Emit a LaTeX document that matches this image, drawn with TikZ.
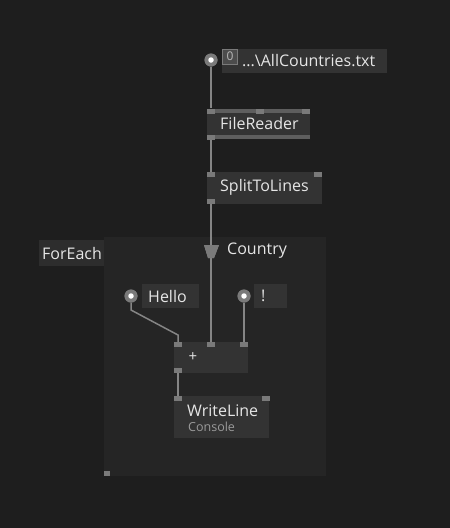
\documentclass[tikz,border=0pt]{standalone}
\usepackage{fontspec}
\setmainfont{Open Sans}
\definecolor{bg}{HTML}{1E1E1E}
\definecolor{region}{HTML}{252525}
\definecolor{nodefill}{HTML}{333333}
\definecolor{labelfill}{HTML}{2D2D2D}
\definecolor{pin}{HTML}{7A7A7A}
\definecolor{wire}{HTML}{858585}
\definecolor{txt}{HTML}{E6E6E6}
\definecolor{subtxt}{HTML}{9A9A9A}
\tikzset{
  pinbox/.style={fill=pin,draw=none,minimum width=8pt,minimum height=5pt,inner sep=0pt},
  wireline/.style={draw=wire,line width=1.5pt},
  lbl/.style={text=txt,font=\fontsize{16}{18}\selectfont,inner sep=0pt,anchor=west},
  iopin/.style={circle,fill=pin,minimum size=13pt,inner sep=0pt},
  iodot/.style={circle,fill=white,minimum size=5.5pt,inner sep=0pt}
}
\begin{document}
\begin{tikzpicture}[x=1pt,y=-1pt]
\path[fill=bg,use as bounding box] (0,0) rectangle (450,528);
% ForEach region
\path[fill=region] (104,237) rectangle (326,476);
\node[fill=labelfill,minimum width=65pt,minimum height=26pt,inner sep=0pt] (forlbl) at (71.5,253) {};
\node[lbl] (fortxt) at (42,253) {ForEach};
\node[pinbox,minimum width=6pt,minimum height=5pt] (regpin) at (107,473.5) {};
% Top IOBox
\node[fill=nodefill,minimum width=165pt,minimum height=24pt,inner sep=0pt] (iobox) at (304.5,61) {};
\node[fill=labelfill!60!pin,draw=pin,line width=1pt,minimum width=15pt,minimum height=15pt,inner sep=0pt] (zero) at (230,57) {};
\node[text=txt!80!black,font=\fontsize{12}{12}\selectfont,inner sep=0pt] (zerotxt) at (230,56.5) {0};
\node[lbl] (iotxt) at (242,61) {...\textbackslash AllCountries.txt};
\node[iopin] (iop) at (211,60) {};
\node[iodot] at (211,60) {};
% FileReader
\node[fill=nodefill,minimum width=103pt,minimum height=30pt,inner sep=0pt] (fr) at (258.5,124) {};
\path[fill=pin!60!nodefill] (207,109) rectangle (310,113);
\path[fill=pin!60!nodefill] (207,135) rectangle (310,139);
\node[pinbox] (frin1) at (211,111) {};
\node[pinbox] (frin2) at (259.5,111) {};
\node[pinbox] (frin3) at (306,111) {};
\node[pinbox] (frout) at (211,137) {};
\node[lbl] at (220,123) {FileReader};
% SplitToLines
\node[fill=nodefill,minimum width=115pt,minimum height=32pt,inner sep=0pt] (stl) at (264.5,188) {};
\node[pinbox] (stlin1) at (211,174.5) {};
\node[pinbox] (stlin2) at (318,174.5) {};
\node[pinbox] (stlout) at (211,201) {};
\node[lbl] at (220,187) {SplitToLines};
% Country splicer
\path[fill=pin] (204,245) -- (219,245) -- (214,258) -- (208,258) -- cycle;
\coordinate (cty) at (211,258);
\coordinate (ctytop) at (211,245);
\node[lbl] (ctytxt) at (227,251) {Country};
% Hello
\node[fill=nodefill,minimum width=57pt,minimum height=24pt,inner sep=0pt] (hellobox) at (170.5,296) {};
\node[lbl] at (148,296) {Hello};
\node[iopin] (hellop) at (131,296) {};
\node[iodot] at (131,296) {};
% !
\node[fill=nodefill,minimum width=33pt,minimum height=24pt,inner sep=0pt] (exbox) at (270.5,296) {};
\node[lbl] at (261,296) {!};
\node[iopin] (exp) at (244,296) {};
\node[iodot] at (244,296) {};
% + node
\node[fill=nodefill,minimum width=74pt,minimum height=31pt,inner sep=0pt] (plus) at (211,357.5) {};
\node[pinbox] (pin1) at (178,344.5) {};
\node[pinbox] (pin2) at (211,344.5) {};
\node[pinbox] (pin3) at (244,344.5) {};
\node[pinbox] (pout) at (178,370.5) {};
\node[text=txt,font=\fontsize{15}{15}\selectfont,inner sep=0pt] at (193,357) {+};
% WriteLine
\node[fill=nodefill,minimum width=95pt,minimum height=42pt,inner sep=0pt] (wl) at (221.5,417) {};
\node[pinbox] (wlin1) at (178,398.5) {};
\node[pinbox] (wlin2) at (265.5,398.5) {};
\node[lbl] at (187,411) {WriteLine};
\node[text=subtxt,font=\fontsize{12.5}{14}\selectfont,inner sep=0pt,anchor=west] at (188,427) {Console};
% wires
\draw[wireline] (iop.south) -- (frin1.north);
\draw[wireline] (frout.south) -- (stlin1.north);
\draw[wireline] (stlout.south) -- (ctytop);
\draw[wireline] (cty) -- (pin2.north);
\draw[wireline] (hellop.south) -- (131,310) -- (178,335) -- (pin1.north);
\draw[wireline] (exp.south) -- (pin3.north);
\draw[wireline] (pout.south) -- (wlin1.north);
% redraw pins over wires
\node[iopin] at (211,60) {}; \node[iodot] at (211,60) {};
\node[iopin] at (131,296) {}; \node[iodot] at (131,296) {};
\node[iopin] at (244,296) {}; \node[iodot] at (244,296) {};
\path[fill=pin] (204,245) -- (219,245) -- (214,258) -- (208,258) -- cycle;
\end{tikzpicture}
\end{document}
